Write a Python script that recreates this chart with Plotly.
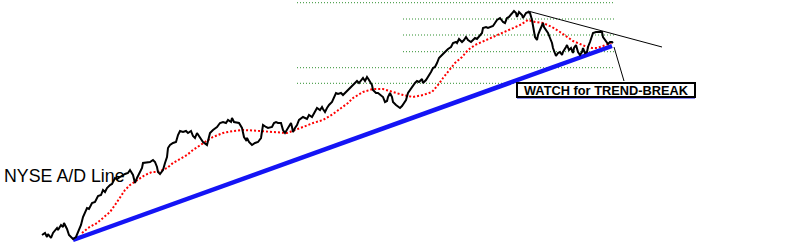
import plotly.graph_objects as go

# ---- data (x = trading-day index, y = A/D line level, chart units) ----
ad_x = [42,45,47,48,51,53,57,58,61,63,64,67,69,73,76,78,81,83,85,87,89,92,95,97,98,101,103,105,107,110,
        112,115,117,120,123,125,128,130,133,135,137,140,142,143,147,150,153,155,157,158,160,163,165,167,168,170,
        173,176,178,180,183,186,188,191,193,195,197,200,203,207,208,210,213,217,220,223,226,228,231,232,234,237,
        239,242,244,246,247,249,252,255,258,261,262,263,266,268,272,274,276,278,281,283,285,287,289,291,292,293,
        295,297,299,302,303,307,309,312,314,316,317,320,322,323,325,327,329,332,334,336,338,341,343,345,347,350,
        353,355,357,359,361,363,365,367,369,372,373,376,378,381,383,385,387,388,390,392,393,396,398,400,402,404,
        406,408,410,413,415,417,419,422,423,426,428,431,433,435,437,439,442,444,446,448,451,453,456,457,459,462,
        464,466,468,471,473,475,477,479,482,483,486,488,491,493,495,497,500,503,505,507,509,512,514,516,517,519,
        522,523,526,528,530,532,533,535,537,538,540,542,543,544,546,548,550,552,553,556,558,560,562,563,566,567,
        569,571,573,574,576,577,578,580,582,583,585,587,588,590,592,593,596,599,602,603,605,607,608,610,612,613]
ad_y = [17,19,15,18,14,19,24,22,27,25,29,23,17,13,15,20,27,35,40,44,43,49,50,54,56,57,62,60,64,67,
        68,74,73,75,77,78,79,82,77,69,74,80,84,89,90,90,92,90,85,80,78,82,89,95,104,107,
        109,110,117,121,120,121,119,121,116,114,119,115,110,107,112,119,122,125,129,130,129,132,130,134,130,129,
        129,124,115,112,114,110,107,109,110,114,120,127,125,124,125,129,130,129,129,122,119,122,126,129,125,120,
        124,127,132,134,135,133,137,135,139,142,144,142,145,143,140,144,147,150,155,159,158,159,157,159,162,164,
        167,169,171,169,172,174,171,175,172,167,162,159,159,156,155,150,151,155,159,155,150,147,145,144,146,149,
        152,159,162,166,169,171,170,173,169,172,175,180,184,185,189,194,197,199,202,203,205,209,210,209,213,210,
        212,215,212,210,212,214,213,215,219,224,225,224,225,226,229,232,234,230,229,234,235,239,241,239,235,240,
        237,234,239,240,239,232,225,215,212,217,222,227,229,225,222,219,214,209,204,196,199,200,197,200,205,207,
        202,204,199,204,207,204,200,197,200,204,199,200,205,210,215,219,220,220,220,215,212,209,208,210,210,209]

ma_x = [82,88,97,103,110,115,120,125,130,137,145,152,158,167,173,180,187,193,198,205,213,223,233,243,253,263,
        273,287,293,303,313,323,333,342,348,353,363,373,383,393,403,413,423,432,438,443,448,455,462,468,475,482,
        490,498,510,520,528,535,543,552,560,567,573,580,587,592,597,603,608,613]
ma_y = [19,24,29,34,40,47,54,62,67,72,77,80,80,84,89,93,97,102,105,110,115,119,121,122,121.5,121,
        120,119,121,125,129,132,138,145,149,154,160,163,163,160,157,155,157,160,167,174,180,189,195,202,207,210,
        214,217,222,227,232,230,229,225,220,215,211,208,205,204,204,206,208,210]

support_x = [73, 612]          # rising trend line
support_y = [12, 206]
resist_x = [528, 662]          # falling top line
resist_y = [241, 205]
pointer_x = [614, 624]
pointer_y = [205, 171]

grid_levels = [249.3, 233, 217, 200.3, 184.3, 168.7]
grid_start = [297, 403, 403, 403, 297, 297]
grid_end = [615, 615, 615, 615, 615, 615]

label_text = "NYSE A/D Line"
callout_text = "<b><u>WATCH</u> for TREND-BREAK</b>"
callout_x = [517, 695]
callout_y = [155, 169]

fig = go.Figure()

for lv, x0, x1 in zip(grid_levels, grid_start, grid_end):
    fig.add_trace(go.Scatter(x=[x0, x1], y=[lv, lv], mode="lines",
                             line=dict(color="#2f8f2f", width=1, dash="1px,2px"),
                             hoverinfo="skip", showlegend=False))

fig.add_trace(go.Scatter(x=support_x, y=support_y, mode="lines",
                         line=dict(color="#1414f5", width=4.5), showlegend=False))
fig.add_trace(go.Scatter(x=resist_x, y=resist_y, mode="lines",
                         line=dict(color="#000000", width=1), showlegend=False))
fig.add_trace(go.Scatter(x=pointer_x, y=pointer_y, mode="lines",
                         line=dict(color="#000000", width=1), showlegend=False))
fig.add_trace(go.Scatter(x=ma_x, y=ma_y, mode="lines",
                         line=dict(color="#ff0000", width=2, dash="2px,2px"), showlegend=False))
fig.add_trace(go.Scatter(x=ad_x, y=ad_y, mode="lines",
                         line=dict(color="#000000", width=2), showlegend=False))

# callout box
fig.add_shape(type="rect", x0=callout_x[0], x1=callout_x[1], y0=callout_y[0], y1=callout_y[1],
              line=dict(color="#000000", width=2), fillcolor="white", layer="above")
fig.add_trace(go.Scatter(x=callout_x, y=[callout_y[0], callout_y[0]], mode="lines",
                         line=dict(color="#1414f5", width=3), showlegend=False))
fig.add_annotation(x=(callout_x[0] + callout_x[1]) / 2, y=(callout_y[0] + callout_y[1]) / 2,
                   text=callout_text, showarrow=False, xanchor="center", yanchor="middle",
                   font=dict(family="Arial, Liberation Sans", size=12.8, color="#000000"))

fig.add_annotation(x=2, y=76, text=label_text, showarrow=False, xanchor="left", yanchor="middle",
                   font=dict(family="Arial, Liberation Sans", size=17.8, color="#000000"))

fig.update_layout(width=800, height=252, margin=dict(l=0, r=0, t=0, b=0),
                  paper_bgcolor="white", plot_bgcolor="white", showlegend=False)
fig.update_xaxes(range=[0, 800], visible=False, fixedrange=True)
fig.update_yaxes(range=[0, 252], visible=False, fixedrange=True)

fig.write_html("out.html", config={"displayModeBar": False})
